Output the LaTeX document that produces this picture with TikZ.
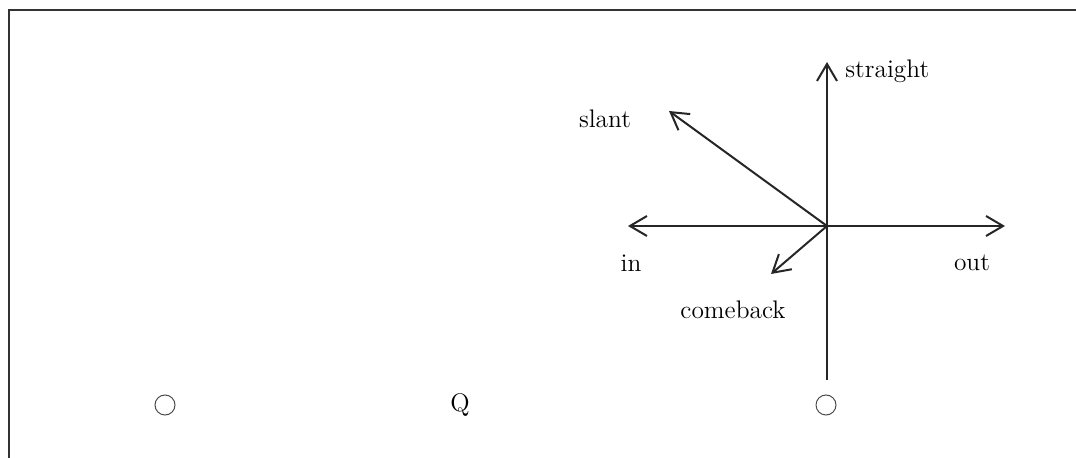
\documentclass[tikz,border=0pt]{standalone}
\usetikzlibrary{arrows.meta}
\begin{document}
\begin{tikzpicture}[x=0.5pt,y=-0.5pt,
  lbl/.style={inner sep=0pt,font=\fontsize{12.7}{15}\selectfont},
  ray/.style={line width=1pt,draw=black!85,-{Straight Barb[length=8.5pt,width=10pt,line width=1pt]}},
  mark circle/.style={circle,draw=black!70,line width=0.5pt,minimum size=10pt,inner sep=0pt}]
  \useasboundingbox (0,0) rectangle (1076,458);
  \clip (0,0) rectangle (1076,458);
  % frame
  \draw[line width=1.1pt,draw=black!80] (9,10) rectangle (1100,480);
  % axes
  \coordinate (o) at (827,226);
  \coordinate (up) at (827,62);
  \coordinate (down) at (827,380);
  \coordinate (left) at (628,226);
  \coordinate (right) at (1005,226);
  \coordinate (sl) at (669,111);
  \coordinate (cb) at (771,274);
  \draw[ray] (down) -- (up);
  \draw[ray] (o) -- (left);
  \draw[ray] (o) -- (right);
  \draw[ray] (o) -- (sl);
  \draw[ray] (o) -- (cb);
  % labels
  \node[lbl,anchor=base west] (straight) at (845,78) {straight};
  \node[lbl] (slant) at (605,119) {slant};
  \node[lbl] (in) at (631,263) {in};
  \node[lbl] (out) at (972,263) {out};
  \node[lbl] (comeback) at (733,310) {comeback};
  \node[lbl] (q) at (460,405) {Q};
  \node[mark circle] (c1) at (165,405) {};
  \node[mark circle] (c2) at (826,405) {};
\end{tikzpicture}
\end{document}
